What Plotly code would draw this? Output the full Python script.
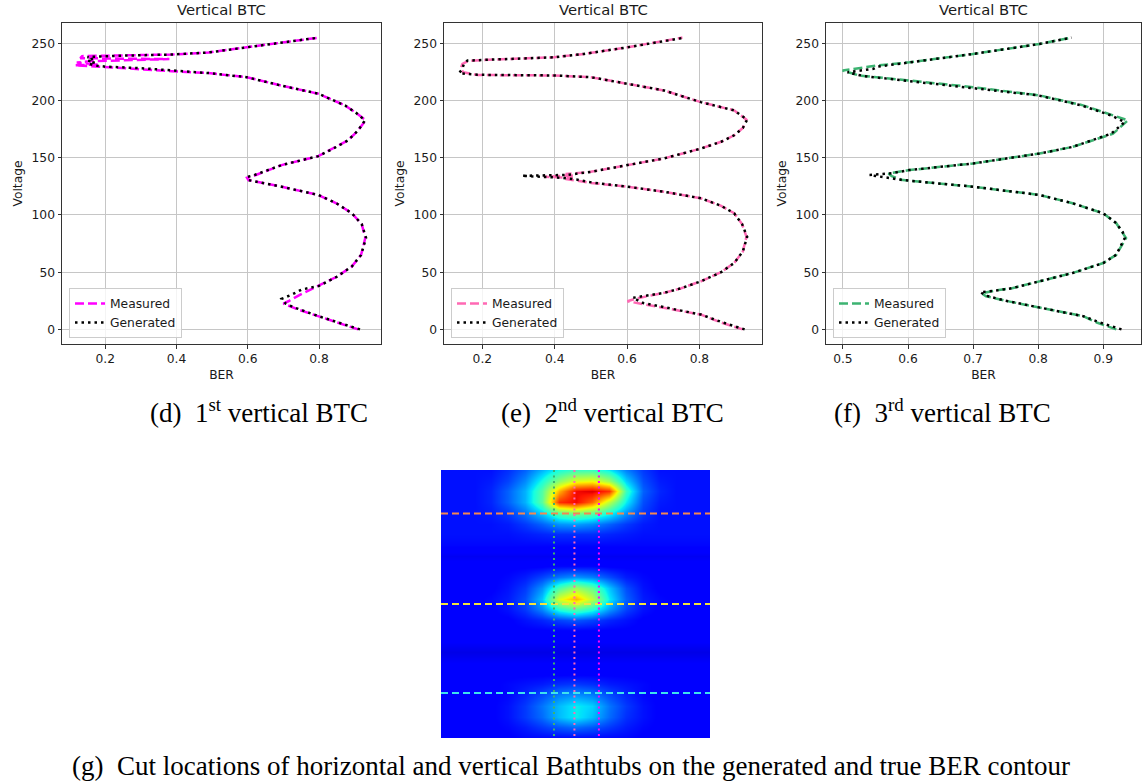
import plotly.graph_objects as go

W, H = 1146, 784

# ---------------- data ----------------
# (d) 1st vertical BTC
v_meas_1 = [0, 5, 11.6, 17, 22.6, 24.6, 30, 38, 46, 55, 65, 80, 92, 101.5, 110, 117.5, 124.7, 130.5, 132.5, 134,
            143.6, 151.4, 158, 165.3, 174, 182.7, 189, 195.7, 206, 213, 220.4, 224, 225.6, 227.6, 229.5, 230.8,
            231.5, 233.2, 234.5, 236.2, 237, 238.8, 239.6, 240.2, 242, 246.5, 250.5, 255]
ber_meas_1 = [0.91, 0.86, 0.798, 0.745, 0.70, 0.714, 0.745, 0.80, 0.85, 0.892, 0.918, 0.93, 0.92, 0.892, 0.85, 0.798,
              0.695, 0.602, 0.598, 0.615, 0.695, 0.798, 0.84, 0.882, 0.91, 0.931, 0.905, 0.873, 0.798, 0.695, 0.597,
              0.49, 0.387, 0.266, 0.19, 0.115, 0.18, 0.12, 0.17, 0.38, 0.13, 0.135, 0.25, 0.387, 0.49, 0.597, 0.70, 0.80]
v_gen_1 = [0, 5, 11.6, 18.9, 22.4, 26.7, 30.5, 34.8, 38, 46, 55, 65, 80, 92, 101.5, 110, 117.5, 124.7, 130.5, 133.4,
           134.5, 143.6, 151.4, 158, 165.3, 174, 182.7, 189, 195.7, 206, 213, 220.4, 224, 226, 228.3, 229.6, 230.5,
           232, 233.5, 235, 236.5, 238, 239.2, 240.2, 242, 246.5, 250.5, 255]
ber_gen_1 = [0.915, 0.865, 0.798, 0.733, 0.707, 0.695, 0.724, 0.751, 0.80, 0.85, 0.892, 0.918, 0.932, 0.92, 0.892,
             0.85, 0.798, 0.695, 0.602, 0.60, 0.615, 0.695, 0.798, 0.84, 0.882, 0.91, 0.929, 0.905, 0.873, 0.798,
             0.695, 0.597, 0.49, 0.40, 0.30, 0.20, 0.175, 0.155, 0.17, 0.15, 0.165, 0.15, 0.25, 0.387, 0.49, 0.597,
             0.70, 0.80]

# (e) 2nd vertical BTC
v_meas_2 = [0, 6, 13, 18.9, 22, 24.6, 27, 31.9, 36, 42, 50, 58, 68, 81, 92, 101.5, 108, 114.6, 120.3, 124.7, 128,
            130.5, 131.5, 132.5, 133.4, 134.5, 135.8, 137.7, 143.6, 149.4, 158, 164, 169.6, 176, 183.3, 191.4, 198.6,
            208.8, 214.6, 220.4, 221.9, 222.3, 224.7, 228, 232, 234.5, 235.5, 237.8, 240.7, 246.5, 255]
ber_meas_2 = [0.92, 0.86, 0.804, 0.702, 0.64, 0.601, 0.625, 0.702, 0.75, 0.804, 0.86, 0.896, 0.92, 0.93, 0.918,
              0.896, 0.86, 0.804, 0.702, 0.601, 0.50, 0.44, 0.43, 0.45, 0.37, 0.45, 0.43, 0.50, 0.601, 0.702, 0.804,
              0.86, 0.896, 0.92, 0.93, 0.896, 0.804, 0.702, 0.601, 0.50, 0.398, 0.186, 0.147, 0.14, 0.145, 0.16,
              0.205, 0.398, 0.481, 0.601, 0.753]
v_gen_2 = [0, 6, 13, 18.9, 23, 27.6, 30, 31.9, 36, 42, 50, 58, 68, 81, 92, 101.5, 108, 114.6, 120.3, 124.7, 128, 131,
           132.5, 134.2, 135, 137.7, 143.6, 149.4, 158, 164, 169.6, 176, 183.3, 191.4, 198.6, 208.8, 214.6, 220.4,
           221.9, 222.5, 223.9, 228, 232, 234.9, 235.5, 237.8, 240.7, 246.5, 255]
ber_gen_2 = [0.925, 0.865, 0.804, 0.71, 0.645, 0.616, 0.66, 0.702, 0.75, 0.804, 0.86, 0.896, 0.92, 0.932, 0.918,
             0.896, 0.86, 0.804, 0.702, 0.601, 0.51, 0.46, 0.42, 0.309, 0.435, 0.50, 0.601, 0.702, 0.804, 0.86, 0.896,
             0.92, 0.932, 0.896, 0.804, 0.702, 0.601, 0.50, 0.398, 0.186, 0.136, 0.145, 0.149, 0.159, 0.205, 0.398,
             0.481, 0.601, 0.76]

# (f) 3rd vertical BTC
v_meas_3 = [0, 6, 11.6, 18.9, 25, 29, 31.5, 34, 36, 42, 49.3, 58, 65.2, 79.8, 92.8, 101.5, 110.2, 117.5, 124.7,
            130.5, 134, 136.3, 139.2, 145, 153.7, 159.5, 171, 182.7, 187, 195.8, 204.5, 211.7, 217.5, 221.9, 226.2,
            230.5, 233.4, 240.7, 249.4, 255]
ber_meas_3 = [0.92, 0.89, 0.869, 0.802, 0.75, 0.72, 0.713, 0.735, 0.76, 0.802, 0.853, 0.90, 0.92, 0.935, 0.92, 0.90,
              0.853, 0.802, 0.70, 0.592, 0.575, 0.57, 0.602, 0.70, 0.802, 0.853, 0.915, 0.938, 0.915, 0.869, 0.802,
              0.70, 0.602, 0.525, 0.4995, 0.551, 0.602, 0.70, 0.802, 0.851]
v_gen_3 = [0, 6, 11.6, 18.9, 25, 29.5, 32.5, 34, 36, 42, 49.3, 58, 65.2, 79.8, 85, 92.8, 101.5, 110.2, 117.5, 124.7,
           130.5, 134.9, 136.5, 139.2, 145, 153.7, 159.5, 171, 181.2, 187, 195.8, 204.5, 211, 217, 221.5, 224.7,
           226.2, 227.7, 229.5, 233.4, 240.7, 249.4, 255]
ber_gen_3 = [0.928, 0.895, 0.869, 0.802, 0.75, 0.72, 0.711, 0.735, 0.76, 0.802, 0.853, 0.90, 0.92, 0.933, 0.93,
             0.92, 0.90, 0.853, 0.802, 0.70, 0.592, 0.541, 0.575, 0.602, 0.70, 0.802, 0.853, 0.912, 0.933, 0.912,
             0.866, 0.80, 0.70, 0.602, 0.53, 0.507, 0.53, 0.547, 0.552, 0.602, 0.70, 0.802, 0.851]

ber_ticks_12 = [0.2, 0.4, 0.6, 0.8]
ber_ticks_3 = [0.5, 0.6, 0.7, 0.8, 0.9]
volt_ticks = [0, 50, 100, 150, 200, 250]

# (g) BER contour (jet colour map values, rows from top to bottom)
heat_x = [i / 16 for i in range(17)]
heat_y = [i * 0.04 for i in range(26)]
heat_z = [
    [.14, .14, .14, .14, .17, .22, .30, .38, .42, .42, .36, .25, .18, .14, .14, .14, .14],
    [.14, .14, .14, .15, .19, .26, .38, .52, .62, .64, .54, .33, .20, .15, .14, .14, .14],
    [.14, .14, .14, .16, .22, .30, .45, .72, .90, .92, .86, .42, .22, .16, .14, .14, .14],
    [.14, .14, .14, .16, .22, .30, .46, .86, .90, .80, .58, .36, .20, .15, .14, .14, .14],
    [.14, .14, .14, .15, .18, .24, .33, .45, .50, .46, .38, .27, .18, .14, .14, .14, .14],
    [.14, .14, .14, .14, .15, .18, .22, .27, .28, .26, .22, .18, .15, .14, .14, .14, .14],
    [.14, .14, .14, .14, .14, .15, .16, .17, .17, .17, .16, .15, .14, .14, .14, .14, .14],
    [.13, .13, .13, .13, .13, .13, .13, .13, .13, .13, .13, .13, .13, .13, .13, .13, .13],
    [.10, .10, .10, .10, .10, .10, .10, .10, .10, .10, .10, .10, .10, .10, .10, .10, .10],
    [.12, .12, .12, .12, .12, .12, .12, .13, .13, .13, .12, .12, .12, .12, .12, .12, .12],
    [.12, .12, .12, .12, .13, .15, .19, .24, .27, .25, .20, .15, .13, .12, .12, .12, .12],
    [.12, .12, .12, .12, .14, .18, .27, .44, .54, .47, .32, .20, .14, .12, .12, .12, .12],
    [.12, .12, .12, .13, .15, .20, .32, .62, .72, .58, .36, .22, .15, .13, .12, .12, .12],
    [.12, .12, .12, .12, .14, .18, .26, .40, .46, .40, .28, .19, .14, .12, .12, .12, .12],
    [.12, .12, .12, .12, .12, .14, .16, .19, .21, .19, .16, .14, .12, .12, .12, .12, .12],
    [.12, .12, .12, .12, .12, .12, .12, .12, .12, .12, .12, .12, .12, .12, .12, .12, .12],
    [.11, .11, .11, .11, .11, .11, .11, .11, .11, .11, .11, .11, .11, .11, .11, .11, .11],
    [.09, .09, .09, .09, .09, .09, .09, .09, .09, .09, .09, .09, .09, .09, .09, .09, .09],
    [.11, .11, .11, .11, .11, .11, .11, .11, .11, .11, .11, .11, .11, .11, .11, .11, .11],
    [.12, .12, .12, .12, .12, .12, .12, .12, .12, .12, .12, .12, .12, .12, .12, .12, .12],
    [.12, .12, .12, .12, .13, .14, .15, .17, .18, .17, .15, .14, .13, .12, .12, .12, .12],
    [.12, .12, .12, .12, .13, .16, .20, .25, .27, .25, .20, .16, .13, .12, .12, .12, .12],
    [.12, .12, .12, .12, .14, .18, .24, .31, .36, .33, .24, .18, .14, .12, .12, .12, .12],
    [.12, .12, .12, .12, .14, .18, .23, .31, .36, .31, .23, .17, .14, .12, .12, .12, .12],
    [.12, .12, .12, .12, .13, .15, .18, .21, .23, .21, .18, .15, .13, .12, .12, .12, .12],
    [.12, .12, .12, .12, .12, .13, .13, .13, .13, .13, .13, .13, .12, .12, .12, .12, .12],
]
# cut locations (fraction of image)
h_cuts = [0.162, 0.50, 0.832]
h_cut_colors = ["#F5874F", "#F2E43C", "#3EE2EE"]
v_cuts = [0.42, 0.496, 0.587]
v_cut_colors = ["#3CB371", "#FF69B4", "#FF00FF"]

captions = ["(d)\u00a0\u00a01<sup>st</sup> vertical BTC",
            "(e)\u00a0\u00a02<sup>nd</sup> vertical BTC",
            "(f)\u00a0\u00a03<sup>rd</sup> vertical BTC"]
caption_g = "(g)\u00a0\u00a0Cut locations of horizontal and vertical Bathtubs on the generated and true BER contour"

# ---------------- layout helpers ----------------
def px_x(p):
    return p / W

def px_y(p):
    return 1 - p / H

panels = [
    dict(x0=62, x1=381, rng=[0.0786, 0.974], ticks=ber_ticks_12, color="#FF00FF",
         vm=v_meas_1, bm=ber_meas_1, vg=v_gen_1, bg=ber_gen_1, leg_x=69, cap_x=259),
    dict(x0=444, x1=762, rng=[0.094, 0.973], ticks=ber_ticks_12, color="#FF69B4",
         vm=v_meas_2, bm=ber_meas_2, vg=v_gen_2, bg=ber_gen_2, leg_x=451, cap_x=612),
    dict(x0=826, x1=1141, rng=[0.474, 0.958], ticks=ber_ticks_3, color="#3CB371",
         vm=v_meas_3, bm=ber_meas_3, vg=v_gen_3, bg=ber_gen_3, leg_x=833, cap_x=942),
]
AX_TOP, AX_BOT = 23, 344
TXT = "#1a1a1a"
FONT = "DejaVu Sans"

fig = go.Figure()
annotations = []
layout = dict(width=W, height=H, margin=dict(l=0, r=0, t=0, b=0), paper_bgcolor="white",
              plot_bgcolor="white", showlegend=True)

for i, p in enumerate(panels):
    n = "" if i == 0 else str(i + 1)
    leg = "legend" if i == 0 else "legend" + str(i + 1)
    fig.add_trace(go.Scatter(x=p["bm"], y=p["vm"], mode="lines", name="Measured",
                             line=dict(color=p["color"], width=2.5, dash="9px,4px"),
                             xaxis="x" + n, yaxis="y" + n, legend=leg))
    fig.add_trace(go.Scatter(x=p["bg"], y=p["vg"], mode="lines", name="Generated",
                             line=dict(color="black", width=2.5, dash="2.5px,4px"),
                             xaxis="x" + n, yaxis="y" + n, legend=leg))
    common = dict(showline=True, linecolor="#333333", linewidth=1, mirror=True, ticks="outside",
                  ticklen=3.5, tickwidth=1, tickcolor="#333333", showgrid=True, gridcolor="#c6c6c6",
                  gridwidth=1, zeroline=False, tickfont=dict(family=FONT, size=12.3, color=TXT))
    layout["xaxis" + n] = dict(common, domain=[px_x(p["x0"]), px_x(p["x1"])], range=p["rng"],
                               tickvals=p["ticks"], ticktext=[f"{t:.1f}" for t in p["ticks"]],
                               anchor="y" + n,
                               title=dict(text="BER", standoff=5,
                                          font=dict(family=FONT, size=12.3, color=TXT)))
    layout["yaxis" + n] = dict(common, domain=[px_y(AX_BOT), px_y(AX_TOP)], range=[-12.75, 267.75],
                               tickvals=volt_ticks, anchor="x" + n,
                               title=dict(text="Voltage", standoff=6,
                                          font=dict(family=FONT, size=12.3, color=TXT)))
    layout[leg] = dict(x=px_x(p["leg_x"]), y=px_y(338), xanchor="left", yanchor="bottom",
                       bgcolor="rgba(255,255,255,0.8)", bordercolor="#cccccc", borderwidth=1,
                       font=dict(family=FONT, size=12.3, color=TXT), itemwidth=30, tracegroupgap=0)
    cx = px_x((p["x0"] + p["x1"]) / 2)
    annotations.append(dict(text="Vertical BTC", x=cx, y=px_y(9), xref="paper", yref="paper",
                            showarrow=False, xanchor="center", yanchor="middle",
                            font=dict(family=FONT, size=14.8, color=TXT)))
    annotations.append(dict(text=captions[i], x=px_x(p["cap_x"]), y=px_y(411), xref="paper",
                            yref="paper", showarrow=False, xanchor="center", yanchor="middle",
                            font=dict(family="Liberation Serif", size=27, color="black")))

# heatmap panel (g)
jet = [[0, "rgb(0,0,128)"], [0.11, "rgb(0,0,255)"], [0.125, "rgb(0,0,255)"], [0.34, "rgb(0,219,255)"],
       [0.35, "rgb(0,229,247)"], [0.375, "rgb(21,255,226)"], [0.64, "rgb(239,255,8)"],
       [0.65, "rgb(247,246,0)"], [0.66, "rgb(255,236,0)"], [0.89, "rgb(255,19,0)"],
       [0.91, "rgb(232,0,0)"], [1, "rgb(128,0,0)"]]
fig.add_trace(go.Heatmap(z=heat_z, x=heat_x, y=heat_y, colorscale=jet, zmin=0, zmax=1,
                         zsmooth="best", showscale=False, xaxis="x4", yaxis="y4", hoverinfo="skip"))
for yc, col in zip(h_cuts, h_cut_colors):
    fig.add_trace(go.Scatter(x=[0, 1], y=[yc, yc], mode="lines", showlegend=False,
                             line=dict(color=col, width=2, dash="7px,4px"), xaxis="x4", yaxis="y4"))
for xc, col in zip(v_cuts, v_cut_colors):
    fig.add_trace(go.Scatter(x=[xc, xc], y=[0, 1], mode="lines", showlegend=False,
                             line=dict(color=col, width=2, dash="2px,3.5px"), xaxis="x4", yaxis="y4"))
layout["xaxis4"] = dict(domain=[px_x(441), px_x(710)], range=[0, 1], visible=False, anchor="y4")
layout["yaxis4"] = dict(domain=[px_y(738), px_y(470)], range=[1, 0], visible=False, anchor="x4")

annotations.append(dict(text=caption_g, x=px_x(571), y=px_y(766), xref="paper", yref="paper",
                        showarrow=False, xanchor="center", yanchor="middle",
                        font=dict(family="Liberation Serif", size=27, color="black")))
layout["annotations"] = annotations
fig.update_layout(**layout)
fig.write_html("out.html")
